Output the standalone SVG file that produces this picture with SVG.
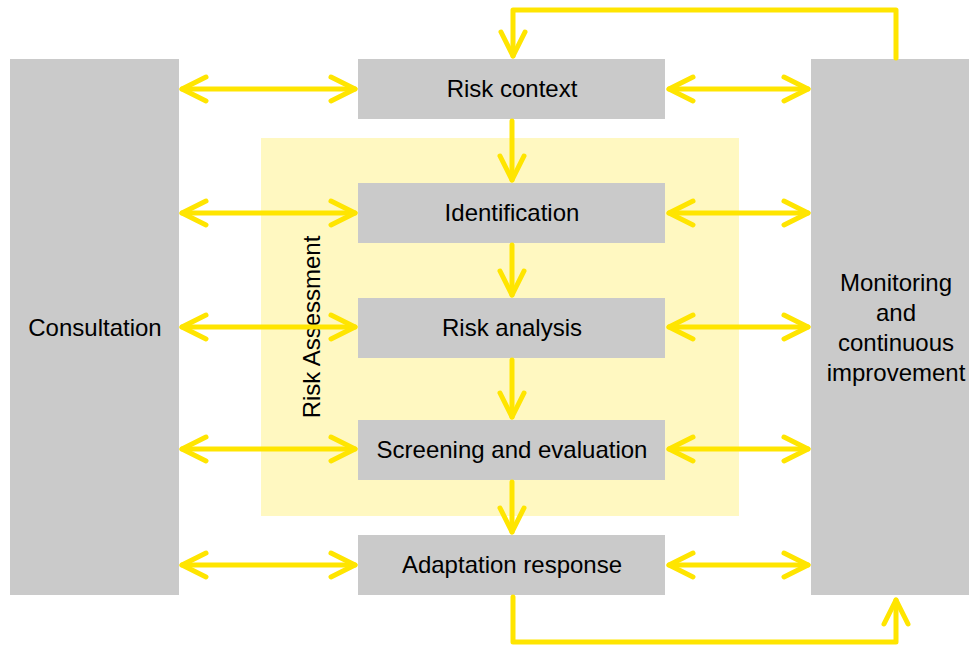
<svg xmlns="http://www.w3.org/2000/svg" width="969" height="647" viewBox="0 0 969 647">
<style>
.box{fill:#cacaca}
.lbl{font-family:"Liberation Sans",Arial,sans-serif;font-size:24px;fill:#000;text-anchor:middle}
.c{fill:none;stroke:#ffe500;stroke-width:5;stroke-linecap:round;stroke-linejoin:round}
</style>
<defs>
<marker id="ah" markerUnits="userSpaceOnUse" viewBox="-30 -20 40 40" markerWidth="40" markerHeight="40" refX="0" refY="0" orient="auto-start-reverse" overflow="visible">
<path d="M-24,-12 L0,0 L-24,12" fill="none" stroke="#ffe500" stroke-width="5" stroke-linecap="round" stroke-linejoin="round"/>
</marker>
</defs>
<rect x="0" y="0" width="969" height="647" fill="#fff"/>
<g id="risk-assessment">
<rect x="261" y="138" width="478" height="378" fill="#fff8c1"/>
<text class="lbl" transform="translate(320,327) rotate(-90)">Risk Assessment</text>
</g>
<g id="consultation">
<rect class="box" x="10" y="59" width="169" height="536"/>
<text class="lbl" x="95" y="336">Consultation</text>
</g>
<g id="monitoring">
<rect class="box" x="811" y="59" width="170" height="536"/>
<text class="lbl" x="896" y="291">Monitoring</text>
<text class="lbl" x="896" y="321">and</text>
<text class="lbl" x="896" y="351">continuous</text>
<text class="lbl" x="896" y="381">improvement</text>
</g>
<g id="risk-context">
<rect class="box" x="358" y="59" width="307" height="60"/>
<text class="lbl" x="512" y="97">Risk context</text>
</g>
<g id="identification">
<rect class="box" x="358" y="183" width="307" height="60"/>
<text class="lbl" x="512" y="221">Identification</text>
</g>
<g id="risk-analysis">
<rect class="box" x="358" y="298" width="307" height="60"/>
<text class="lbl" x="512" y="336">Risk analysis</text>
</g>
<g id="screening">
<rect class="box" x="358" y="420" width="307" height="60"/>
<text class="lbl" x="512" y="458">Screening and evaluation</text>
</g>
<g id="adaptation">
<rect class="box" x="358" y="535" width="307" height="60"/>
<text class="lbl" x="512" y="573">Adaptation response</text>
</g>
<g id="connectors">
<path class="c" d="M182,89 H355" marker-start="url(#ah)" marker-end="url(#ah)"/>
<path class="c" d="M182,213 H355" marker-start="url(#ah)" marker-end="url(#ah)"/>
<path class="c" d="M182,327 H355" marker-start="url(#ah)" marker-end="url(#ah)"/>
<path class="c" d="M182,449 H355" marker-start="url(#ah)" marker-end="url(#ah)"/>
<path class="c" d="M182,565 H355" marker-start="url(#ah)" marker-end="url(#ah)"/>
<path class="c" d="M669,89 H808" marker-start="url(#ah)" marker-end="url(#ah)"/>
<path class="c" d="M669,213 H808" marker-start="url(#ah)" marker-end="url(#ah)"/>
<path class="c" d="M669,327 H808" marker-start="url(#ah)" marker-end="url(#ah)"/>
<path class="c" d="M669,449 H808" marker-start="url(#ah)" marker-end="url(#ah)"/>
<path class="c" d="M669,565 H808" marker-start="url(#ah)" marker-end="url(#ah)"/>
<path class="c" d="M512,121 V180" marker-end="url(#ah)"/>
<path class="c" d="M512,245 V295" marker-end="url(#ah)"/>
<path class="c" d="M512,360 V417" marker-end="url(#ah)"/>
<path class="c" d="M512,482 V532" marker-end="url(#ah)"/>
<path class="c" d="M896,58 V10 H513 V56" marker-end="url(#ah)"/>
<path class="c" d="M513,597 V642 H896 V600" marker-end="url(#ah)"/>
</g>
</svg>
